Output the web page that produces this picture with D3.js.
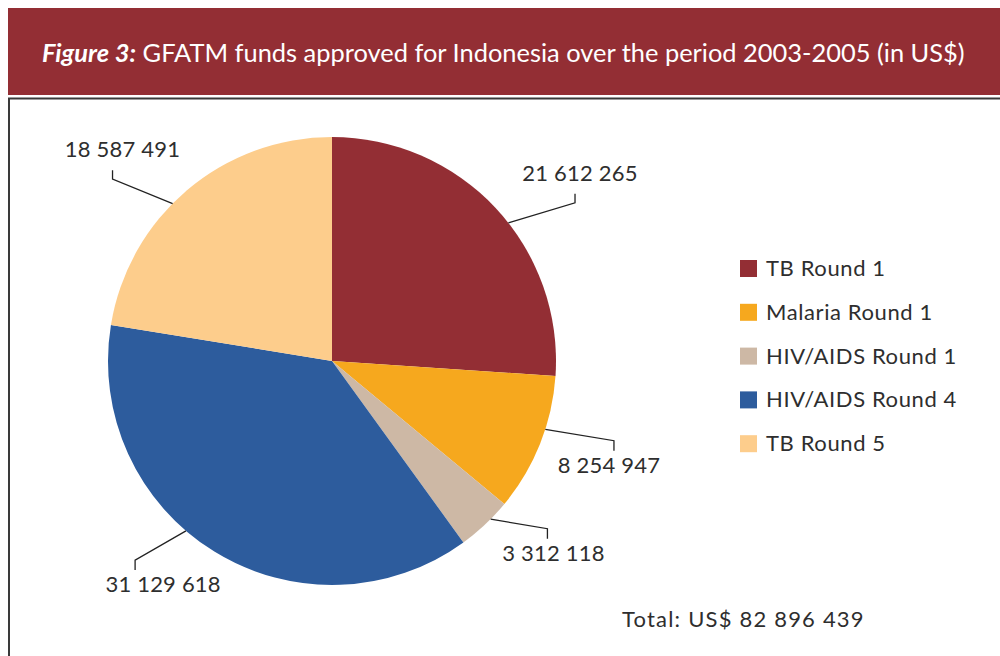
<!DOCTYPE html>
<html>
<head>
<meta charset="utf-8">
<script src="https://cdn.jsdelivr.net/npm/d3@7"></script>
<style>
  body { margin: 0; background: #fff; }
  svg { display: block; font-family: "Lato", "Open Sans", sans-serif; }
</style>
</head>
<body>
<script>
// datos del gráfico
const categories = ["TB Round 1", "Malaria Round 1", "HIV/AIDS Round 1", "HIV/AIDS Round 4", "TB Round 5"];
const values = [21612265, 8254947, 3312118, 31129618, 18587491];
const valueLabels = ["21 612 265", "8 254 947", "3 312 118", "31 129 618", "18 587 491"];
const colors = ["#932e34", "#f6a81e", "#cdb8a5", "#2d5c9d", "#fdcd8c"];
const titleBold = "Figure 3:";
const titleRest = " GFATM funds approved for Indonesia over the period 2003-2005 (in US$)";
const totalLabel = "Total: US$ 82 896 439";

const width = 1000, height = 656;
const cx = 332, cy = 361, radius = 224;

const svg = d3.select("body").append("svg")
    .attr("width", width)
    .attr("height", height);

// banda del título
svg.append("rect")
    .attr("x", 8).attr("y", 8)
    .attr("width", width - 8).attr("height", 87)
    .attr("fill", "#932e34");

const title = svg.append("text")
    .attr("x", 42).attr("y", 62)
    .attr("fill", "#fff")
    .style("font-size", "25px");
title.append("tspan").text(titleBold)
    .style("font-weight", "bold").style("font-style", "italic");
title.append("tspan").text(titleRest);

// ajustar el tamaño del título al ancho del original
const tw = title.node().getComputedTextLength();
title.style("font-size", (25 * 923 / tw) + "px");

// marco
svg.append("rect")
    .attr("x", 9).attr("y", 98.5)
    .attr("width", width + 20).attr("height", 600)
    .attr("fill", "none")
    .attr("stroke", "#3a3a3a")
    .attr("stroke-width", 2);

// tarta
const pie = d3.pie().sort(null).value(d => d);
const arcs = pie(values);
const arc = d3.arc().innerRadius(0).outerRadius(radius);

const g = svg.append("g").attr("transform", `translate(${cx},${cy})`);

g.selectAll("path")
    .data(arcs)
    .enter()
    .append("path")
    .attr("d", arc)
    .attr("fill", (d, i) => colors[i]);

// líneas guía: desplazamiento angular (grados) y radio del codo, por porción
const leaderShift = [5, -4, -2, 9, -5];
const elbowShift = [10, -6, -9, 13, -10];
const elbowR = [290, 293, 273, 280, 285];
const labelDx = [5, -5, 6, 28, 10];

arcs.forEach((d, i) => {
    const mid = (d.startAngle + d.endAngle) / 2;
    const a0 = mid + leaderShift[i] * Math.PI / 180;
    const a1 = mid + elbowShift[i] * Math.PI / 180;
    const p0 = [Math.sin(a0) * radius, -Math.cos(a0) * radius];
    const p1 = [Math.sin(a1) * elbowR[i], -Math.cos(a1) * elbowR[i]];
    const up = i === 0 || i === 4;
    const p2 = [p1[0], p1[1] + (up ? -9 : 10)];

    g.append("path")
        .attr("d", d3.line()([p0, p1, p2]))
        .attr("fill", "none")
        .attr("stroke", "#222")
        .attr("stroke-width", 1.3);

    g.append("text")
        .attr("x", p1[0] + labelDx[i])
        .attr("y", up ? p2[1] - 13 : p2[1] + 22)
        .attr("text-anchor", "middle")
        .attr("fill", "#2e2e2e")
        .style("font-size", "22px")
        .style("letter-spacing", "0.2px")
        .text(valueLabels[i]);
});

// leyenda
const legend = svg.append("g").attr("transform", "translate(740,260)");
const rows = legend.selectAll("g")
    .data(categories)
    .enter()
    .append("g")
    .attr("transform", (d, i) => `translate(0,${i * 43.8})`);

rows.append("rect")
    .attr("width", 17).attr("height", 17)
    .attr("fill", (d, i) => colors[i]);

rows.append("text")
    .attr("x", 26).attr("y", 16)
    .attr("fill", "#2e2e2e")
    .style("font-size", "22px")
    .style("letter-spacing", "0.6px")
    .text(d => d);

// total
svg.append("text")
    .attr("x", 622).attr("y", 627)
    .attr("fill", "#2e2e2e")
    .style("font-size", "22px")
    .style("letter-spacing", "1.2px")
    .text(totalLabel);
</script>
</body>
</html>
